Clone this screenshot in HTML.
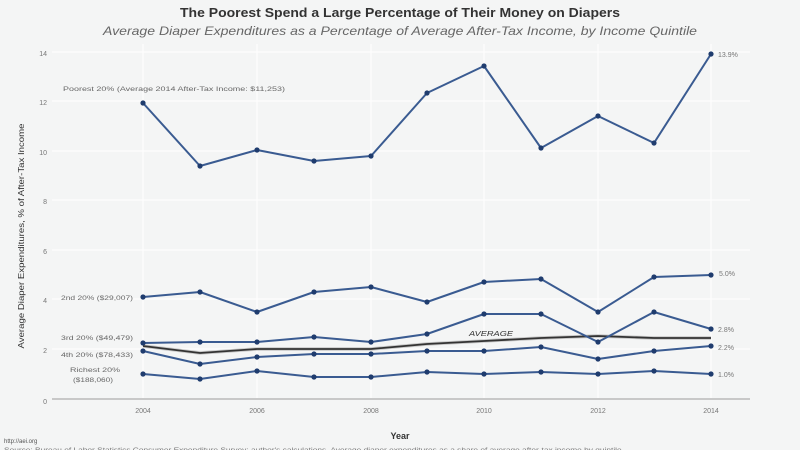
<!DOCTYPE html>
<html>
<head>
<meta charset="utf-8">
<style>
  html,body{margin:0;padding:0;background:#f4f5f5;}
  svg{display:block;}
  text{font-family:"Liberation Sans",sans-serif;}
</style>
</head>
<body>
<svg width="800" height="450" viewBox="0 0 800 450" xmlns="http://www.w3.org/2000/svg">
  <rect x="0" y="0" width="800" height="450" fill="#f4f5f5"/>

  <!-- Title -->
  <text x="400" y="17" text-anchor="middle" font-size="12.5" font-weight="bold" fill="#333" textLength="440" lengthAdjust="spacingAndGlyphs">The Poorest Spend a Large Percentage of Their Money on Diapers</text>
  <text x="400" y="35" text-anchor="middle" font-size="12" font-style="italic" fill="#666" textLength="594" lengthAdjust="spacingAndGlyphs">Average Diaper Expenditures as a Percentage of Average After-Tax Income, by Income Quintile</text>

  <!-- Gridlines -->
  <g stroke="#ffffff" stroke-width="1">
    <line x1="52" y1="52" x2="750" y2="52"/>
    <line x1="52" y1="101" x2="750" y2="101"/>
    <line x1="52" y1="151" x2="750" y2="151"/>
    <line x1="52" y1="200" x2="750" y2="200"/>
    <line x1="52" y1="250" x2="750" y2="250"/>
    <line x1="52" y1="299" x2="750" y2="299"/>
    <line x1="52" y1="349" x2="750" y2="349"/>
    <line x1="143" y1="44" x2="143" y2="398"/>
    <line x1="257" y1="44" x2="257" y2="398"/>
    <line x1="371" y1="44" x2="371" y2="398"/>
    <line x1="484" y1="44" x2="484" y2="398"/>
    <line x1="598" y1="44" x2="598" y2="398"/>
    <line x1="711" y1="44" x2="711" y2="398"/>
  </g>
  <!-- x axis line -->
  <line x1="52" y1="399" x2="750" y2="399" stroke="#c8c8c8" stroke-width="2"/>

  <!-- Y tick labels -->
  <g font-size="7" fill="#777" text-anchor="end">
    <text x="47" y="56">14</text>
    <text x="47" y="105">12</text>
    <text x="47" y="155">10</text>
    <text x="47" y="204">8</text>
    <text x="47" y="254">6</text>
    <text x="47" y="303">4</text>
    <text x="47" y="353">2</text>
    <text x="47" y="404">0</text>
  </g>
  <!-- X tick labels -->
  <g font-size="7" fill="#777" text-anchor="middle">
    <text x="143" y="413">2004</text>
    <text x="257" y="413">2006</text>
    <text x="371" y="413">2008</text>
    <text x="484" y="413">2010</text>
    <text x="598" y="413">2012</text>
    <text x="711" y="413">2014</text>
  </g>

  <!-- Axis titles -->
  <text x="400" y="439" text-anchor="middle" font-size="9" font-weight="bold" fill="#333">Year</text>
  <text transform="translate(24,236) rotate(-90)" text-anchor="middle" font-size="8.5" fill="#333" textLength="225" lengthAdjust="spacingAndGlyphs">Average Diaper Expenditures, % of After-Tax Income</text>

  <!-- Average line -->
  <polyline fill="none" stroke="#999" stroke-width="3.5" stroke-opacity="0.5" points="143,346 200,353 257,349 314,349 371,349 427,344 484,341 541,338 598,336 654,338 711,338"/>
  <polyline fill="none" stroke="#333" stroke-width="1.8" points="143,346 200,353 257,349 314,349 371,349 427,344 484,341 541,338 598,336 654,338 711,338"/>
  <text x="469" y="336" font-size="7" font-style="italic" fill="#333" textLength="44" lengthAdjust="spacingAndGlyphs">AVERAGE</text>

  <!-- Series -->
  <g fill="none" stroke="#3a5b91" stroke-width="2" stroke-linejoin="round">
    <polyline points="143,103 200,166 257,150 314,161 371,156 427,93 484,66 541,148 598,116 654,143 711,54"/>
    <polyline points="143,297 200,292 257,312 314,292 371,287 427,302 484,282 541,279 598,312 654,277 711,275"/>
    <polyline points="143,343 200,342 257,342 314,337 371,342 427,334 484,314 541,314 598,342 654,312 711,329"/>
    <polyline points="143,351 200,364 257,357 314,354 371,354 427,351 484,351 541,347 598,359 654,351 711,346"/>
    <polyline points="143,374 200,379 257,371 314,377 371,377 427,372 484,374 541,372 598,374 654,371 711,374"/>
  </g>
  <g fill="#1f3c6e">
    <!-- poorest -->
    <circle cx="143" cy="103" r="2.6"/><circle cx="200" cy="166" r="2.6"/><circle cx="257" cy="150" r="2.6"/><circle cx="314" cy="161" r="2.6"/><circle cx="371" cy="156" r="2.6"/><circle cx="427" cy="93" r="2.6"/><circle cx="484" cy="66" r="2.6"/><circle cx="541" cy="148" r="2.6"/><circle cx="598" cy="116" r="2.6"/><circle cx="654" cy="143" r="2.6"/><circle cx="711" cy="54" r="2.6"/>
    <!-- 2nd -->
    <circle cx="143" cy="297" r="2.6"/><circle cx="200" cy="292" r="2.6"/><circle cx="257" cy="312" r="2.6"/><circle cx="314" cy="292" r="2.6"/><circle cx="371" cy="287" r="2.6"/><circle cx="427" cy="302" r="2.6"/><circle cx="484" cy="282" r="2.6"/><circle cx="541" cy="279" r="2.6"/><circle cx="598" cy="312" r="2.6"/><circle cx="654" cy="277" r="2.6"/><circle cx="711" cy="275" r="2.6"/>
    <!-- 3rd -->
    <circle cx="143" cy="343" r="2.6"/><circle cx="200" cy="342" r="2.6"/><circle cx="257" cy="342" r="2.6"/><circle cx="314" cy="337" r="2.6"/><circle cx="371" cy="342" r="2.6"/><circle cx="427" cy="334" r="2.6"/><circle cx="484" cy="314" r="2.6"/><circle cx="541" cy="314" r="2.6"/><circle cx="598" cy="342" r="2.6"/><circle cx="654" cy="312" r="2.6"/><circle cx="711" cy="329" r="2.6"/>
    <!-- 4th -->
    <circle cx="143" cy="351" r="2.6"/><circle cx="200" cy="364" r="2.6"/><circle cx="257" cy="357" r="2.6"/><circle cx="314" cy="354" r="2.6"/><circle cx="371" cy="354" r="2.6"/><circle cx="427" cy="351" r="2.6"/><circle cx="484" cy="351" r="2.6"/><circle cx="541" cy="347" r="2.6"/><circle cx="598" cy="359" r="2.6"/><circle cx="654" cy="351" r="2.6"/><circle cx="711" cy="346" r="2.6"/>
    <!-- richest -->
    <circle cx="143" cy="374" r="2.6"/><circle cx="200" cy="379" r="2.6"/><circle cx="257" cy="371" r="2.6"/><circle cx="314" cy="377" r="2.6"/><circle cx="371" cy="377" r="2.6"/><circle cx="427" cy="372" r="2.6"/><circle cx="484" cy="374" r="2.6"/><circle cx="541" cy="372" r="2.6"/><circle cx="598" cy="374" r="2.6"/><circle cx="654" cy="371" r="2.6"/><circle cx="711" cy="374" r="2.6"/>
  </g>

  <!-- Series labels left -->
  <g font-size="6.5" fill="#666">
    <text x="63" y="91" textLength="222" lengthAdjust="spacingAndGlyphs">Poorest 20% (Average 2014 After-Tax Income: $11,253)</text>
    <text x="133" y="300" text-anchor="end" textLength="72" lengthAdjust="spacingAndGlyphs">2nd 20% ($29,007)</text>
    <text x="133" y="340" text-anchor="end" textLength="72" lengthAdjust="spacingAndGlyphs">3rd 20% ($49,479)</text>
    <text x="133" y="357" text-anchor="end" textLength="72" lengthAdjust="spacingAndGlyphs">4th 20% ($78,433)</text>
    <text x="95" y="372" text-anchor="middle" textLength="50" lengthAdjust="spacingAndGlyphs">Richest 20%</text>
    <text x="93" y="382" text-anchor="middle" textLength="40" lengthAdjust="spacingAndGlyphs">($188,060)</text>
  </g>

  <!-- Series labels right -->
  <g font-size="7" fill="#777">
    <text x="718" y="57">13.9%</text>
    <text x="719" y="276">5.0%</text>
    <text x="718" y="332">2.8%</text>
    <text x="718" y="350">2.2%</text>
    <text x="718" y="377">1.0%</text>
  </g>

  <!-- Footer -->
  <text x="4" y="443" font-size="6" fill="#555">http://aei.org</text>
  <text x="4" y="452" font-size="6" fill="#777" textLength="620" lengthAdjust="spacingAndGlyphs">Source: Bureau of Labor Statistics Consumer Expenditure Survey; author's calculations. Average diaper expenditures as a share of average after-tax income by quintile.</text>
</svg>
</body>
</html>
